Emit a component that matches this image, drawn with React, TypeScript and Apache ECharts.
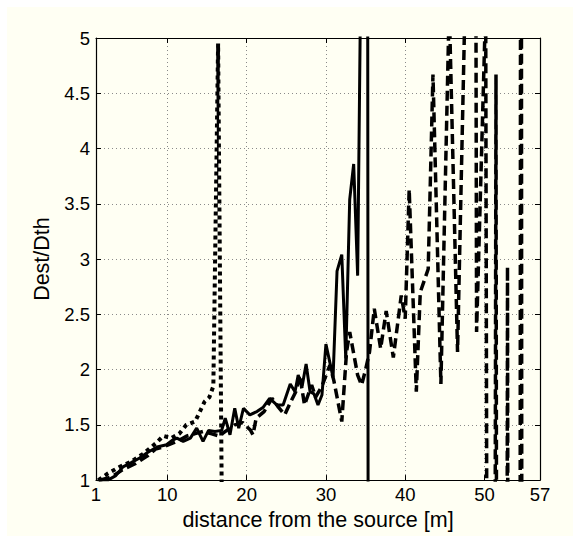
import React, { useEffect, useRef } from "react";
import * as echarts from "echarts";

const xTicks = [1, 10, 20, 30, 40, 50, 57];
const yMin = 1;
const yMax = 5;
const yStep = 0.5;
const xName = "distance from the source [m]";
const yName = "Dest/Dth";

const solidLine: [number, number][] = [
  [1.2, 1.0], [2.5, 1.0], [3.5, 1.04], [4.4, 1.12], [5.5, 1.16], [6.5, 1.2],
  [7.5, 1.25], [8.7, 1.3], [9.9, 1.32], [10.6, 1.36], [11.2, 1.38], [12.0, 1.35],
  [12.9, 1.38], [13.7, 1.47], [14.5, 1.35], [15.2, 1.45], [16.0, 1.44], [16.85, 1.45],
  [17.3, 1.56], [17.9, 1.41], [18.5, 1.65], [19.0, 1.47], [19.6, 1.65], [20.4, 1.59],
  [21.3, 1.62], [22.1, 1.66], [22.9, 1.74], [23.8, 1.68], [24.6, 1.68], [25.5, 1.87],
  [26.1, 1.8], [26.5, 1.95], [27.0, 1.85], [27.5, 2.05], [28.0, 1.8], [28.5, 1.78],
  [29.0, 1.68], [29.5, 1.77], [30.0, 2.23], [30.9, 1.93], [31.4, 2.89], [32.0, 3.04],
  [32.5, 2.1], [33.0, 3.54], [33.5, 3.86], [34.0, 2.85], [34.6, 7], [35.25, 7], [35.35, -2],
];

const dashedLine: [number, number][] = [
  [1.5, 1.0], [3, 1.03], [4.5, 1.1], [6, 1.15], [7.5, 1.22], [8.5, 1.28], [9.5, 1.3],
  [10.5, 1.33], [11.5, 1.36], [12.5, 1.4], [13.5, 1.42], [14.5, 1.44], [15.5, 1.42],
  [16.5, 1.4], [17.5, 1.45], [18.5, 1.5], [19.5, 1.52], [20.5, 1.45], [20.8, 1.41],
  [21.2, 1.56], [22.2, 1.62], [23.2, 1.74], [24.0, 1.66], [24.8, 1.59], [25.5, 1.7],
  [26.2, 1.8], [26.7, 1.95], [27.3, 1.68], [28.2, 1.86], [28.7, 1.75], [29.5, 1.85],
  [30.5, 2.04], [31.0, 1.9], [32.0, 1.53], [32.6, 2.16], [33.0, 2.34], [34.0, 1.95],
  [34.5, 1.86], [35.0, 2.0], [35.5, 2.16], [36.1, 2.55], [36.9, 2.19], [37.6, 2.53],
  [38.5, 2.11], [39.5, 2.67], [40.0, 2.46], [40.5, 3.63], [41.4, 1.8], [41.9, 2.7],
  [42.9, 2.91], [43.5, 4.67], [44.5, 1.87], [45.55, 5.3], [46.6, 2.16], [47.6, 5.5],
  [48.85, 8], [49.0, 2.34], [50.15, 5.3], [50.45, -5], [51.2, -5], [51.45, 4.67],
  [51.6, -5], [52.75, -5], [52.9, 2.93], [53.05, -5], [54.45, -5], [54.6, 12], [54.75, -5],
];

const dottedLine: [number, number][] = [
  [1.3, 1.0], [2.5, 1.06], [4, 1.12], [5.5, 1.17], [7, 1.24], [8.5, 1.33], [9.5, 1.4],
  [10.5, 1.38], [11.5, 1.42], [12.4, 1.5], [13.5, 1.53], [14.1, 1.62], [14.7, 1.71],
  [15.3, 1.75], [15.8, 1.85], [16.4, 4.95], [16.9, 0.5],
];

const FONT = "'Liberation Sans', Arial, sans-serif";
const TICK_FS = 18.5;
const NAME_FS = 21.5;

export default function App() {
  const ref = useRef<HTMLDivElement>(null);
  useEffect(() => {
    document.body.style.margin = "0";
    const chart = echarts.init(ref.current!, null, { renderer: "svg" });
    const gridLine = { show: true, lineStyle: { color: "#8a8a8a", width: 1, type: [1, 3] } };
    const axisLine = { show: true, onZero: false, lineStyle: { color: "#000", width: 1.2 } };
    const xBase = {
      type: "value",
      min: xTicks[0],
      max: xTicks[xTicks.length - 1],
      axisLine,
    };
    const yBase = {
      type: "value",
      min: yMin,
      max: yMax,
      interval: yStep,
      axisLine,
    };
    chart.setOption({
      animation: false,
      backgroundColor: "#ffffff",
      graphic: [
        {
          type: "rect",
          z: -10,
          silent: true,
          shape: { x: 7, y: 7, width: 566, height: 529 },
          style: { fill: "#fffff3" },
        },
      ],
      grid: { left: 96, top: 38, width: 444, height: 444, containLabel: false },
      xAxis: [
        {
          ...xBase,
          position: "bottom",
          name: xName,
          nameLocation: "middle",
          nameGap: 22,
          nameTextStyle: { color: "#000", fontSize: NAME_FS, fontFamily: FONT },
          axisTick: { show: true, inside: true, length: 5, customValues: xTicks, lineStyle: { color: "#000" } },
          axisLabel: { show: true, customValues: xTicks, margin: 5, color: "#000", fontSize: TICK_FS, fontFamily: FONT },
          splitLine: gridLine,
        },
        {
          ...xBase,
          position: "top",
          axisTick: { show: true, inside: true, length: 5, customValues: xTicks, lineStyle: { color: "#000" } },
          axisLabel: { show: false },
          splitLine: { show: false },
        },
      ],
      yAxis: [
        {
          ...yBase,
          position: "left",
          name: yName,
          nameLocation: "middle",
          nameGap: 41,
          nameTextStyle: { color: "#000", fontSize: NAME_FS, fontFamily: FONT },
          axisTick: { show: true, inside: true, length: 5, lineStyle: { color: "#000" } },
          axisLabel: { show: true, margin: 6, color: "#000", fontSize: TICK_FS, fontFamily: FONT },
          splitLine: gridLine,
        },
        {
          ...yBase,
          position: "right",
          axisTick: { show: true, inside: true, length: 5, lineStyle: { color: "#000" } },
          axisLabel: { show: false },
          splitLine: { show: false },
        },
      ],
      series: [
        {
          type: "line",
          data: dottedLine,
          symbol: "none",
          clip: true,
          lineStyle: { color: "#000", width: 4, type: [4, 4] },
          z: 3,
        },
        {
          type: "line",
          data: dashedLine,
          symbol: "none",
          clip: true,
          lineStyle: { color: "#000", width: 3.5, type: [10, 5] },
          z: 4,
        },
        {
          type: "line",
          data: solidLine,
          symbol: "none",
          clip: true,
          lineStyle: { color: "#000", width: 3 },
          z: 5,
        },
      ],
    });
    return () => chart.dispose();
  }, []);
  return <div ref={ref} style={{ width: 573, height: 536 }} />;
}
